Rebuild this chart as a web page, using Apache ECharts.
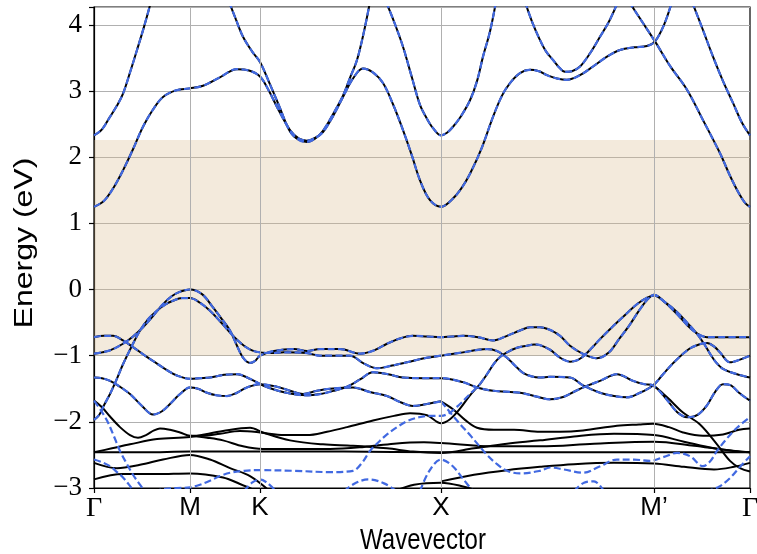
<!DOCTYPE html>
<html><head><meta charset="utf-8">
<script src="https://cdn.jsdelivr.net/npm/echarts@6/dist/echarts.min.js"></script>
<style>html,body{margin:0;padding:0;background:#fff}#c{width:757px;height:554px}</style>
</head><body><div id="c"></div>
<script>
// k-path positions of high-symmetry points and their labels
const kTicks = [0, 96, 166, 347, 560, 656];
const kLabels = ['Γ', 'M', 'K', 'X', 'M’', 'Γ'];
const energyMin = -3, energyMax = 4.27;
const gapRegion = [-1.0, 2.26];
const xTitle = 'Wavevector', yTitle = 'Energy (eV)';

// ---- bands present in both calculations (black solid + blue dashed) ----
const bandC1 = [[0,1.25],[10,1.34],[20,1.55],[29,1.80],[39,2.12],[49,2.46],[59,2.72],[69,2.91],[82,3.01],[96,3.04],[109,3.08],[125,3.2],[143,3.33],[155,3.31],[166,3.22],[175,3.0],[183,2.76],[196,2.41],[205,2.28],[213,2.25],[221,2.29],[229,2.38],[239,2.62],[249,2.91],[259,3.19],[269,3.34],[279,3.28],[289,3.12],[299,2.8],[309,2.41],[318,2.02],[326,1.65],[336,1.35],[347,1.25],[358,1.36],[367,1.52],[376,1.75],[388,2.15],[399,2.61],[408,2.93],[416,3.12],[426,3.27],[436,3.32],[445,3.30],[453,3.24],[463,3.19],[473,3.17],[486,3.24],[499,3.37],[513,3.52],[526,3.62],[540,3.66],[553,3.68],[561,3.75],[570,4.0],[578,4.35]];
const bandC2a = [[0,2.33],[8,2.42],[16,2.61],[23,2.78],[29,2.96],[36,3.28],[43,3.62],[50,3.97],[57,4.35]];
const bandC2b = [[135,4.35],[142,4.08],[149,3.82],[158,3.6],[166,3.44],[176,3.10],[185,2.78],[196,2.39],[205,2.26],[213,2.23],[221,2.28],[229,2.40],[239,2.65],[249,2.93],[256,3.2],[263,3.47],[270,3.9],[276,4.35]];
const bandC2c = [[292,4.35],[300,4.05],[309,3.67],[318,3.2],[326,2.79],[333,2.58],[339,2.44],[347,2.33],[353,2.37],[359,2.46],[367,2.62],[376,2.86],[383,3.15],[389,3.52],[396,3.9],[402,4.35]];
const bandC2d = [[431,4.35],[438,4.05],[446,3.77],[452,3.6],[459,3.47],[465,3.36],[471,3.29],[478,3.30],[486,3.37],[496,3.57],[506,3.82],[515,4.05],[524,4.35]];
const bandC2e = [[535,4.35],[548,4.05],[561,3.75],[576,3.38],[593,3.02],[609,2.56],[626,2.06],[636,1.72],[645,1.45],[651,1.31],[656,1.25]];
const bandC3 = [[598,4.35],[608,3.96],[619,3.52],[629,3.15],[639,2.82],[648,2.52],[656,2.33]];

const bandV1 = [[0,-0.97],[8,-0.95],[16,-0.92],[29,-0.82],[39,-0.71],[49,-0.57],[59,-0.40],[69,-0.22],[77,-0.11],[85,-0.04],[96,0.0],[108,-0.07],[119,-0.27],[128,-0.45],[136,-0.62],[143,-0.85],[149,-1.03],[156,-1.11],[161,-1.08],[166,-1.0],[180,-0.93],[200,-0.90],[213,-0.93],[226,-0.90],[246,-0.90],[266,-0.97],[280,-0.92],[293,-0.82],[306,-0.74],[319,-0.70],[333,-0.71],[347,-0.72],[358,-0.71],[369,-0.70],[384,-0.72],[399,-0.77],[413,-0.70],[426,-0.62],[436,-0.57],[446,-0.57],[456,-0.61],[466,-0.70],[476,-0.85],[490,-0.98],[503,-1.04],[515,-0.95],[525,-0.75],[535,-0.55],[545,-0.32],[553,-0.16],[560,-0.08],[570,-0.18],[583,-0.37],[599,-0.62],[613,-0.72],[630,-0.72],[656,-0.72]];
const bandV2 = [[0,-1.97],[5,-1.9],[10,-1.75],[16,-1.58],[22,-1.38],[29,-1.13],[37,-0.88],[46,-0.62],[54,-0.45],[63,-0.32],[71,-0.23],[79,-0.17],[88,-0.13],[96,-0.13],[106,-0.20],[116,-0.32],[126,-0.48],[136,-0.65],[143,-0.76],[150,-0.85],[158,-0.92],[166,-0.95],[178,-0.96],[190,-0.95],[213,-0.96],[226,-1.0],[241,-1.0],[256,-1.0],[270,-1.12],[283,-1.19],[298,-1.15],[313,-1.10],[330,-1.04],[347,-1.0],[369,-0.95],[393,-0.90],[403,-0.93],[413,-1.03],[421,-1.15],[429,-1.26],[437,-1.31],[446,-1.33],[456,-1.32],[476,-1.33],[489,-1.45],[506,-1.56],[520,-1.61],[533,-1.63],[546,-1.56],[559,-1.45],[568,-1.3],[580,-1.1],[595,-0.9],[605,-0.83],[613,-0.81],[620,-0.86],[626,-0.95],[636,-1.1],[646,-1.06],[656,-1.0]];
const bandV3 = [[0,-0.72],[10,-0.70],[19,-0.70],[29,-0.77],[39,-0.87],[51,-1.0],[63,-1.12],[73,-1.22],[83,-1.30],[96,-1.35],[106,-1.34],[116,-1.33],[130,-1.29],[143,-1.28],[156,-1.35],[169,-1.45],[189,-1.55],[213,-1.60],[226,-1.58],[240,-1.53],[253,-1.47],[266,-1.36],[279,-1.25],[294,-1.28],[309,-1.33],[330,-1.34],[347,-1.34],[369,-1.40],[383,-1.48],[399,-1.53],[426,-1.56],[443,-1.62],[456,-1.66],[470,-1.62],[482,-1.53],[494,-1.45],[506,-1.38],[523,-1.28],[539,-1.38],[550,-1.43],[559,-1.45],[572,-1.65],[583,-1.85],[593,-1.93],[603,-1.9],[613,-1.75],[621,-1.55],[629,-1.43],[637,-1.45],[645,-1.56],[656,-1.68]];
const bandV4 = [[0,-1.33],[8,-1.34],[16,-1.38],[26,-1.47],[36,-1.58],[48,-1.76],[59,-1.89],[68,-1.84],[76,-1.73],[86,-1.58],[96,-1.48],[104,-1.50],[113,-1.56],[123,-1.60],[133,-1.61],[143,-1.56],[153,-1.48],[166,-1.43],[183,-1.47],[196,-1.53],[209,-1.58],[223,-1.53],[236,-1.50],[259,-1.48],[276,-1.55],[293,-1.61],[306,-1.70],[319,-1.76],[333,-1.73],[347,-1.69]];
const bandR = [[386,-1.43],[393,-1.28],[400,-1.12],[406,-1.02],[413,-0.95],[423,-0.88],[433,-0.85],[440,-0.83],[446,-0.84],[456,-0.91],[466,-1.03],[476,-1.09],[483,-1.07],[490,-1.0],[498,-0.88],[506,-0.75],[518,-0.57],[530,-0.4],[540,-0.26],[550,-0.15],[560,-0.09],[570,-0.18],[583,-0.34],[593,-0.50],[603,-0.67],[610,-0.82],[616,-0.97],[622,-1.1],[629,-1.2],[643,-1.28],[656,-1.33]];

// ---- bands only in the first calculation (black solid) ----
const blackB1 = [[0,-1.68],[8,-1.78],[16,-1.92],[26,-2.08],[36,-2.2],[44,-2.24],[52,-2.2],[60,-2.13],[66,-2.10],[76,-2.12],[86,-2.16],[96,-2.21],[110,-2.21],[126,-2.18],[146,-2.14],[166,-2.16],[190,-2.2],[213,-2.2],[233,-2.15],[253,-2.08],[279,-1.98],[300,-1.91],[316,-1.87],[333,-1.9],[347,-2.02],[356,-1.96],[366,-1.8],[376,-1.6],[386,-1.43]];
const blackB2 = [[0,-2.46],[50,-2.46],[96,-2.45],[166,-2.45],[250,-2.45],[347,-2.46],[450,-2.46],[560,-2.46],[656,-2.46]];
const blackB3 = [[0,-2.46],[18,-2.40],[36,-2.34],[63,-2.26],[96,-2.23],[129,-2.14],[156,-2.09],[169,-2.16],[196,-2.28],[229,-2.34],[259,-2.36],[293,-2.40],[319,-2.45],[347,-2.47],[380,-2.40],[413,-2.33],[446,-2.28],[480,-2.22],[520,-2.18],[560,-2.2],[590,-2.3],[620,-2.4],[640,-2.44],[656,-2.46]];
const blackB4 = [[347,-1.69],[359,-1.81],[371,-1.97],[383,-2.09],[400,-2.12],[420,-2.12],[446,-2.15],[466,-2.15],[489,-2.13],[523,-2.06],[545,-2.04],[559,-2.03],[575,-2.08],[589,-2.16],[609,-2.21],[629,-2.19],[645,-2.12],[656,-2.1]];
const blackB5 = [[0,-2.62],[23,-2.7],[46,-2.65],[69,-2.57],[96,-2.50],[116,-2.57],[136,-2.7],[156,-2.82],[176,-3.05]];
const blackB6 = [[0,-2.87],[29,-2.79],[63,-2.79],[96,-2.78],[129,-2.84],[146,-2.94],[163,-3.05]];
const blackB7 = [[96,-2.21],[113,-2.24],[129,-2.28],[149,-2.37],[169,-2.41],[200,-2.41],[236,-2.41],[270,-2.38],[300,-2.33],[330,-2.31],[347,-2.32],[400,-2.37],[446,-2.37],[500,-2.33],[560,-2.30],[600,-2.36],[630,-2.42],[656,-2.46]];
const blackB8 = [[559,-1.45],[566,-1.53],[578,-1.7],[589,-1.86],[606,-2.04],[623,-2.34],[636,-2.59],[646,-2.7],[656,-2.75]];
const blackB9 = [[347,-2.9],[380,-2.8],[413,-2.73],[446,-2.68],[480,-2.64],[520,-2.62],[560,-2.63],[590,-2.68],[620,-2.72],[640,-2.68],[656,-2.62]];
const blackB10 = [[300,-3.05],[320,-2.95],[347,-2.92],[370,-2.98],[385,-3.05]];

// ---- bands only in the second calculation (blue dashed) ----
const blueX1 = [[0,-1.68],[7,-1.83],[13,-1.98],[20,-2.22],[26,-2.44],[33,-2.64],[39,-2.80],[45,-2.93],[51,-3.05]];
const blueX2 = [[0,-2.57],[8,-2.61],[16,-2.67],[23,-2.76],[29,-2.84],[35,-2.95],[40,-3.05]];
const blueX3 = [[60,-3.05],[69,-3.02],[83,-3.0],[96,-2.99],[106,-2.95],[116,-2.89],[126,-2.82],[136,-2.77],[150,-2.74],[163,-2.73],[200,-2.74],[236,-2.76],[259,-2.74],[268,-2.62],[276,-2.44],[285,-2.3],[293,-2.19],[303,-2.08],[313,-1.99],[325,-1.93],[336,-1.91],[347,-1.91],[356,-1.86],[366,-1.73],[376,-1.58],[386,-1.43]];
const blueX4 = [[347,-1.69],[353,-1.8],[359,-1.91],[367,-2.05],[376,-2.2],[385,-2.36],[393,-2.5],[403,-2.64],[413,-2.74],[426,-2.78],[446,-2.74],[456,-2.69],[470,-2.72],[489,-2.77],[505,-2.68],[523,-2.57],[540,-2.57],[556,-2.59],[570,-2.53],[583,-2.47],[596,-2.52],[609,-2.67],[616,-2.6],[623,-2.44],[633,-2.25],[643,-2.09],[656,-1.93]];
const blueX5 = [[150,-3.05],[158,-2.92],[166,-2.87],[173,-2.92],[182,-3.05]];
const blueX6 = [[250,-3.05],[262,-2.92],[275,-2.87],[290,-2.93],[303,-3.05]];
const blueX7 = [[326,-3.05],[335,-2.75],[347,-2.57],[358,-2.66],[370,-2.88],[379,-3.05]];
const blueX8 = [[480,-3.05],[490,-2.92],[500,-2.9],[510,-3.05]];
const blueX9 = [[612,-3.05],[625,-2.98],[636,-2.85],[646,-2.68],[656,-2.52]];

const matchedBands = [bandC1, bandC2a, bandC2b, bandC2c, bandC2d, bandC2e, bandC3, bandV1, bandV2, bandV3, bandV4, bandR];
const blackOnly = [blackB1, blackB2, blackB3, blackB4, blackB5, blackB6, blackB7, blackB8, blackB9, blackB10];
const blueOnly = [blueX1, blueX2, blueX3, blueX4, blueX5, blueX6, blueX7, blueX8, blueX9];

const BLACK = '#000000', BLUE = '#4169e1';
const series = [];
// background: shaded region and vertical grid lines
series.push({
  type: 'line', data: [], silent: true, z: 1,
  markArea: { silent: true, itemStyle: { color: 'rgba(214,186,140,0.30)' },
    data: [[{ yAxis: gapRegion[0] }, { yAxis: gapRegion[1] }]] },
  markLine: { silent: true, symbol: 'none', label: { show: false },
    lineStyle: { color: '#b0b0b0', width: 1, type: 'solid' },
    data: kTicks.slice(1, -1).map(v => ({ xAxis: v })) }
});
function lineSeries(data, color, dashed, z) {
  return { type: 'line', data: data, showSymbol: false, symbol: 'none', smooth: 0.35, z: z,
    silent: true, animation: false, clip: true,
    lineStyle: { color: color, width: dashed ? 2.2 : 2, type: dashed ? [7, 3.3] : 'solid', cap: 'butt' } };
}
[...matchedBands, ...blackOnly].forEach(b => series.push(lineSeries(b, BLACK, false, 3)));
[...matchedBands, ...blueOnly].forEach(b => series.push(lineSeries(b, BLUE, true, 4)));

const chart = echarts.init(document.getElementById('c'), null, { renderer: 'canvas' });
chart.setOption({
  animation: false,
  backgroundColor: '#fff',
  grid: { left: 94, right: 7, top: 7, bottom: 66, outerBoundsMode: 'none', containLabel: false, show: true, borderColor: '#000', borderWidth: 1.2, backgroundColor: 'transparent' },
  // axis titles (slightly stretched vertically, as in the reference picture)
  graphic: [
    { type: 'text', x: 423, y: 541, scaleY: 1.2, silent: true,
      style: { text: xTitle, font: '24px "Liberation Sans"', fill: '#000', align: 'center', verticalAlign: 'middle' } },
    { type: 'text', x: 25, y: 243, rotation: Math.PI / 2, scaleX: 1.28, silent: true,
      style: { text: yTitle, font: '25px "Liberation Sans"', fill: '#000', align: 'center', verticalAlign: 'middle' } }
  ],
  xAxis: {
    type: 'value', min: kTicks[0], max: kTicks[kTicks.length - 1],
    axisLine: { show: true, onZero: false, lineStyle: { color: '#000', width: 1.2 } },
    axisTick: { show: true, customValues: kTicks, length: 5, lineStyle: { color: '#000', width: 1.2 } },
    axisLabel: { show: true, customValues: kTicks, margin: 7, color: '#000',
      formatter: v => { const i = kTicks.indexOf(v); const t = i >= 0 ? kLabels[i] : ''; return t === 'Γ' ? '{g|Γ}' : '{s|' + t + '}'; },
      rich: { g: { fontFamily: 'Liberation Serif', fontSize: 28, color: '#000' }, s: { fontFamily: 'Liberation Sans', fontSize: 26, color: '#000' } } },
    splitLine: { show: false }
  },
  yAxis: {
    type: 'value', min: energyMin, max: energyMax, interval: 1,
    axisLine: { show: true, onZero: false, lineStyle: { color: '#000', width: 1.2 } },
    axisTick: { show: true, length: 5, lineStyle: { color: '#000', width: 1.2 } },
    axisLabel: { show: true, margin: 12, color: '#000', fontFamily: 'Liberation Serif', fontSize: 27,
      formatter: v => (Math.abs(v - Math.round(v)) < 1e-6 ? (v < 0 ? '\u2212' + Math.abs(Math.round(v)) : String(Math.round(v))) : '') },
    splitLine: { show: true, lineStyle: { color: '#b0b0b0', width: 1 } }
  },
  series: series
});
</script></body></html>
